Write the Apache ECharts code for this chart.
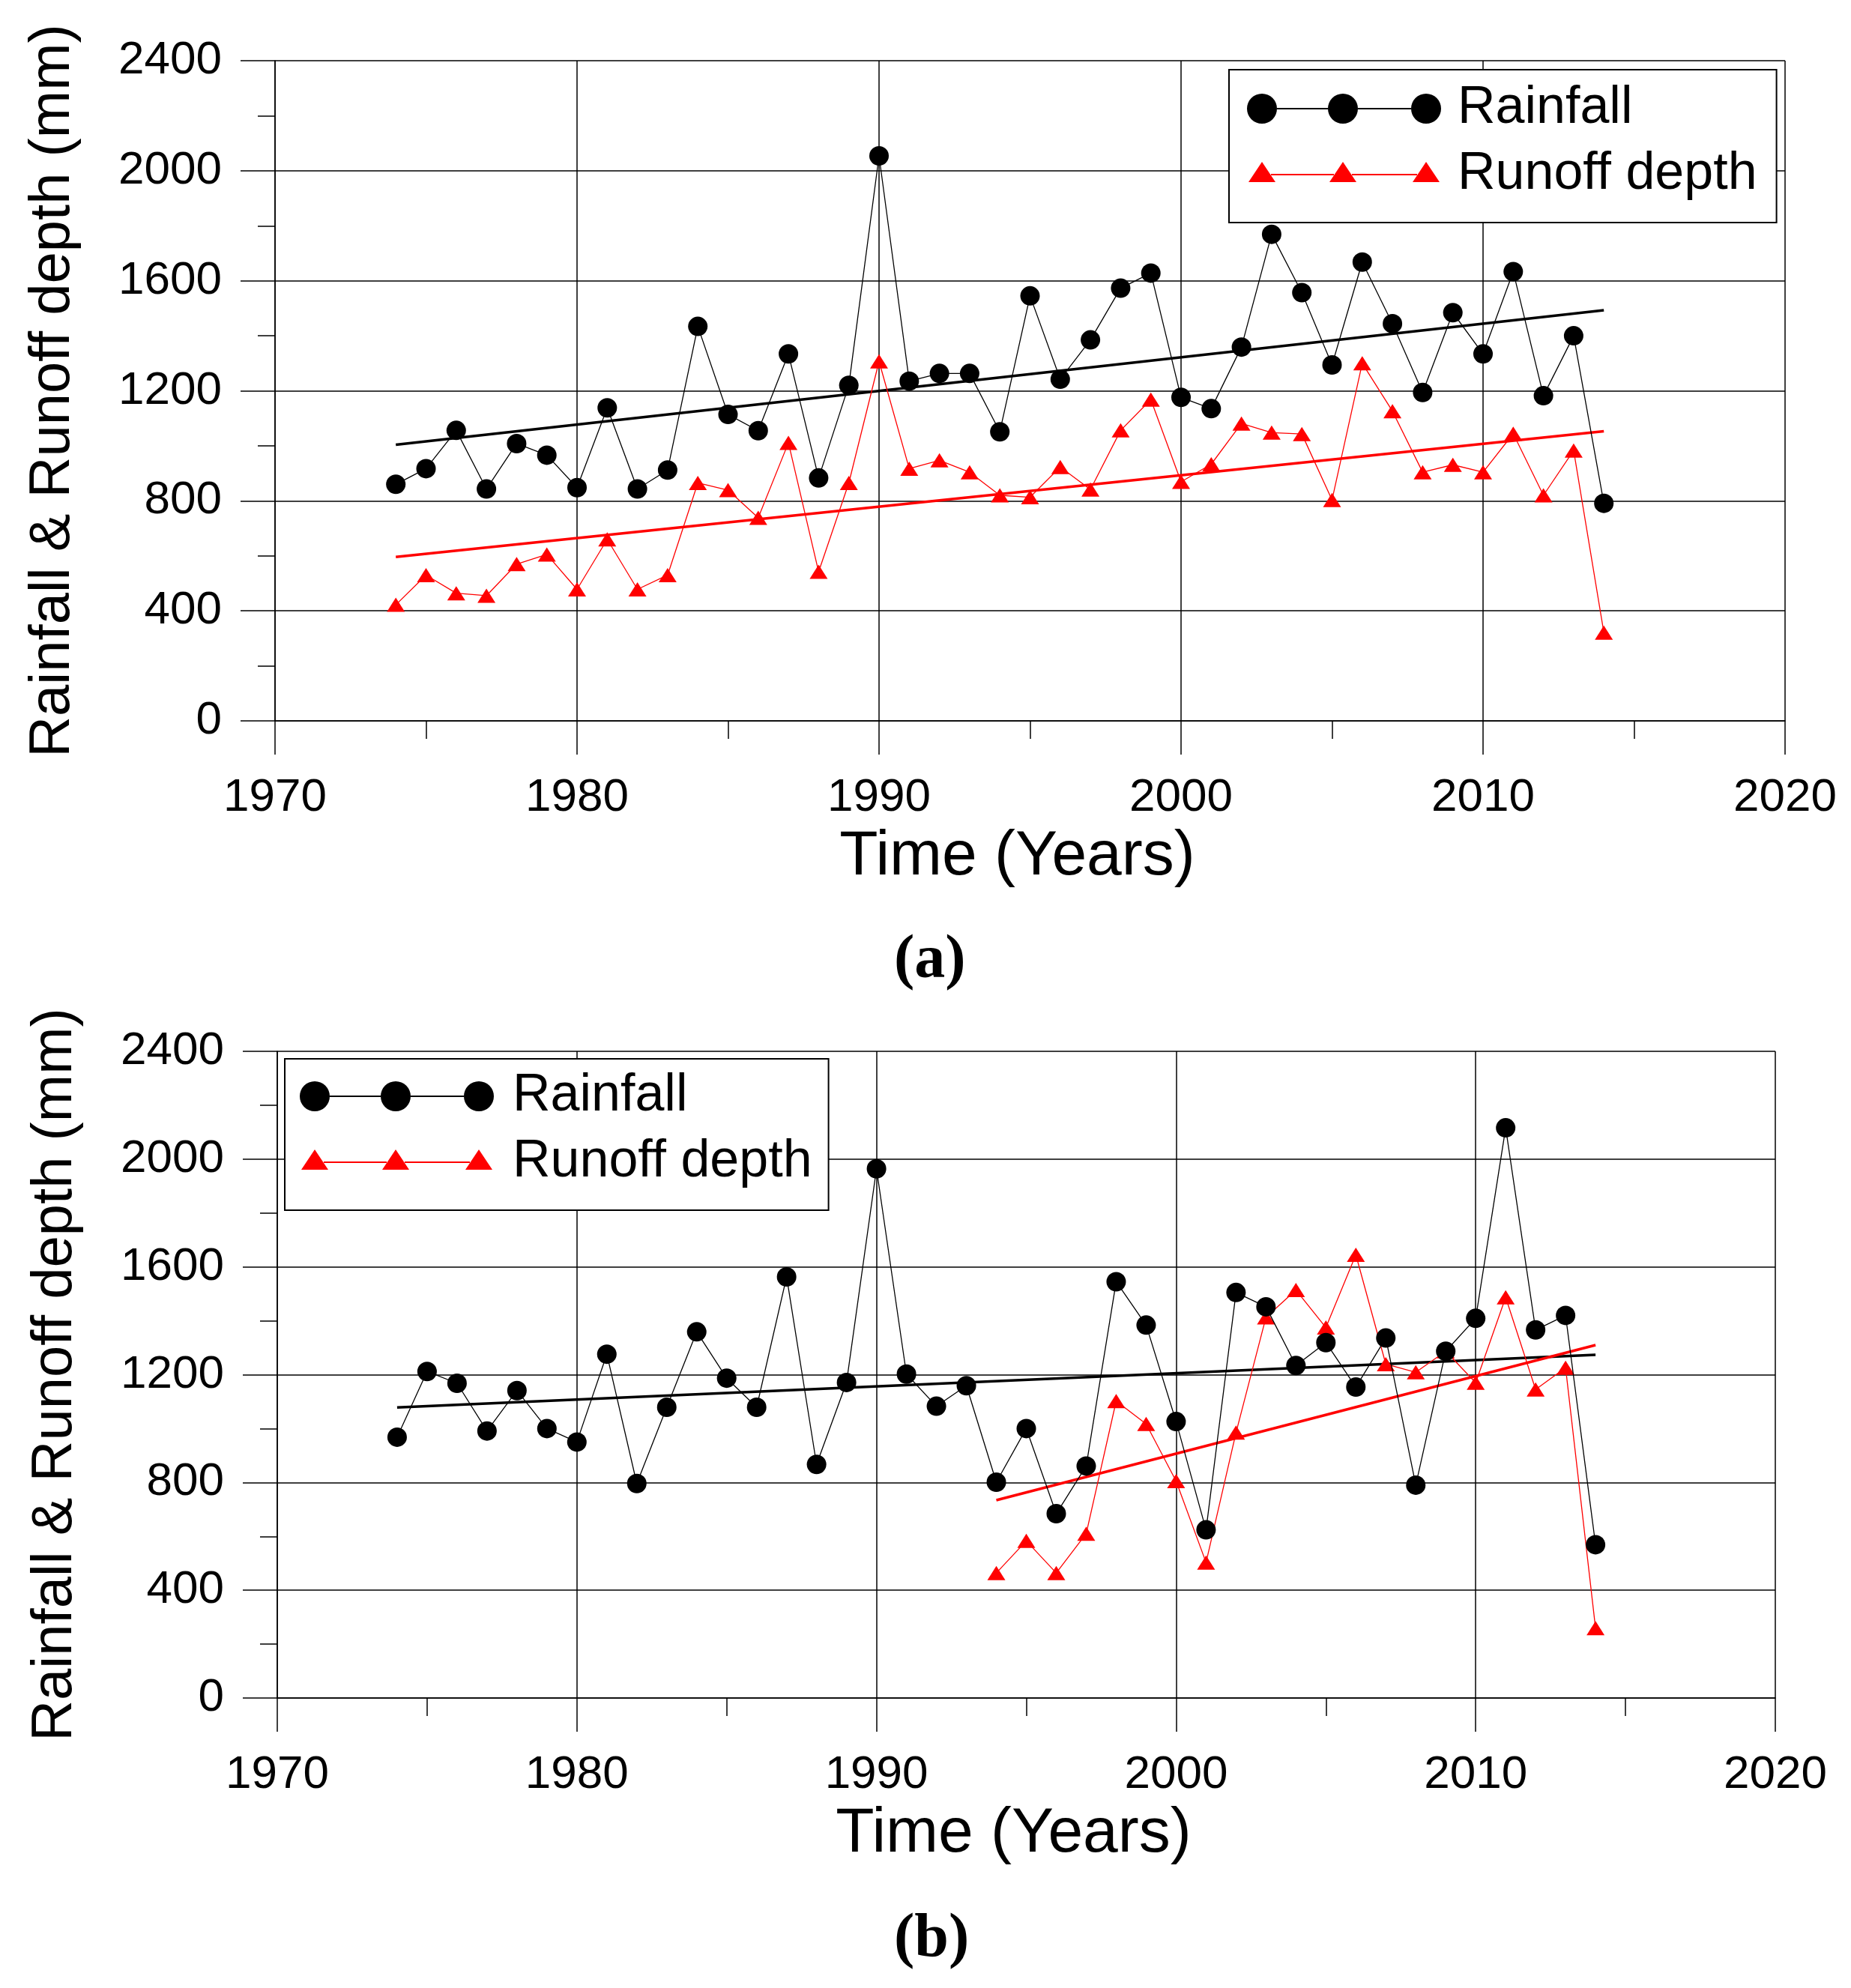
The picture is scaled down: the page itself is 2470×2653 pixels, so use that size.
<!DOCTYPE html>
<html>
<head>
<meta charset="utf-8">
<script src="https://cdn.jsdelivr.net/npm/echarts@6/dist/echarts.min.js"></script>
<style>
html,body{margin:0;padding:0;background:#fff;}
#c{width:2470px;height:2653px;}
</style>
</head>
<body>
<div id="c"></div>
<script>
// ---------- data ----------
const years = [1974,1975,1976,1977,1978,1979,1980,1981,1982,1983,1984,1985,1986,1987,1988,1989,1990,
  1991,1992,1993,1994,1995,1996,1997,1998,1999,2000,2001,2002,2003,2004,2005,2006,2007,2008,2009,2010,2011,2012,2013,2014];

// panel (a)
const rainfallA = [860,917,1056,843,1008,966,848,1138,843,912,1434,1114,1055,1334,883,1220,2054,
  1235,1263,1263,1051,1545,1242,1385,1573,1628,1176,1135,1359,1769,1557,1294,1668,1444,1194,1484,1334,1633,1182,1400,791];
const runoffA = [422,530,464,455,570,605,478,660,478,530,865,839,738,1011,542,865,1307,
  917,947,904,820,813,923,841,1056,1168,869,933,1081,1048,1043,803,1300,1126,904,931,904,1044,820,983,321];
const trendRainA = [[1974,1004],[2014,1493]];
const trendRunoffA = [[1974,596],[2014,1053]];

// panel (b)
const rainfallB = [968,1212,1168,991,1141,1000,950,1276,796,1079,1359,1187,1079,1563,867,1171,1964,
  1202,1083,1159,801,1000,684,861,1545,1384,1026,624,1505,1452,1234,1319,1154,1336,790,1287,1409,2116,1366,1420,569];
const runoffYearsB = [1994,1995,1996,1997,1998,1999,2000,2001,2002,2003,2004,2005,2006,2007,2008,2009,2010,2011,2012,2013,2014];
const runoffB = [464,583,464,610,1102,1017,805,503,985,1413,1514,1375,1645,1239,1209,1287,1170,1487,1145,1226,259];
const trendRainB = [[1974,1078],[2014,1274]];
const trendRunoffB = [[1994,734],[2014,1310]];

// axes
const xMin = 1970, xMax = 2020, xStep = 10;
const yMin = 0, yMax = 2400, yStep = 400;
const seriesNames = ['Rainfall', 'Runoff depth'];
const xTitle = 'Time (Years)';
const yTitle = 'Rainfall & Runoff depth (mm)';
const panelLabels = ['(a)', '(b)'];

// ---------- chart ----------
const FONT = '"Liberation Sans", Arial, sans-serif';
const chart = echarts.init(document.getElementById('c'), null, {renderer: 'canvas'});

const grids = [
  {left: 367, top: 81, width: 2015, height: 881},
  {left: 370, top: 1403, width: 1999, height: 863}
];
const plain = v => String(v);

function xAxis(gi) {
  return {
    type: 'value', gridIndex: gi, min: xMin, max: xMax, interval: xStep,
    axisLine: {show: true, onZero: false, lineStyle: {color: '#000', width: 1.5}},
    axisTick: {show: true, length: 45, lineStyle: {color: '#000', width: 1.5}},
    minorTick: {show: true, splitNumber: 2, length: 24, lineStyle: {color: '#000', width: 1.5}},
    splitLine: {show: true, lineStyle: {color: '#000', width: 1.5}},
    axisLabel: {fontSize: 62, color: '#000', margin: 72, fontFamily: FONT, formatter: plain},
    name: xTitle, nameLocation: 'middle', nameGap: 140, nameMoveOverlap: false,
    nameTextStyle: {fontSize: 84, color: '#000', fontFamily: FONT, padding: [0, 34, 0, 0]}
  };
}
function yAxis(gi) {
  return {
    type: 'value', gridIndex: gi, min: yMin, max: yMax, interval: yStep,
    axisLine: {show: true, onZero: false, lineStyle: {color: '#000', width: 1.5}},
    axisTick: {show: true, length: 46, lineStyle: {color: '#000', width: 1.5}},
    minorTick: {show: true, splitNumber: 2, length: 23, lineStyle: {color: '#000', width: 1.5}},
    splitLine: {show: true, lineStyle: {color: '#000', width: 1.5}},
    axisLabel: {fontSize: 62, color: '#000', margin: 71, fontFamily: FONT, formatter: plain},
    name: yTitle, nameLocation: 'middle', nameGap: 258, nameRotate: 90, nameMoveOverlap: false,
    nameTextStyle: {fontSize: 76, color: '#000', fontFamily: FONT}
  };
}

function panelSeries(gi, rain, runoff, runoffYears, tRain, tRun) {
  return [
    {type: 'line', name: 'Rainfall trend', xAxisIndex: gi, yAxisIndex: gi,
      data: tRain, symbol: 'none', lineStyle: {color: '#000', width: 3.5}, z: 2, silent: true},
    {type: 'line', name: 'Runoff trend', xAxisIndex: gi, yAxisIndex: gi,
      data: tRun, symbol: 'none', lineStyle: {color: '#ff0000', width: 3.5}, z: 2, silent: true},
    {type: 'line', name: seriesNames[1], xAxisIndex: gi, yAxisIndex: gi,
      data: runoffYears.map((y, i) => [y, runoff[i]]),
      symbol: 'triangle', symbolSize: [24, 19],
      itemStyle: {color: '#ff0000', borderWidth: 0}, lineStyle: {color: '#ff0000', width: 1.3}, z: 3},
    {type: 'line', name: seriesNames[0], xAxisIndex: gi, yAxisIndex: gi,
      data: years.map((y, i) => [y, rain[i]]),
      symbol: 'circle', symbolSize: 26,
      itemStyle: {color: '#000', borderWidth: 0}, lineStyle: {color: '#000', width: 1.3}, z: 4}
  ];
}

const circleIcon = 'path://M0,20a20,20 0 1,0 40,0a20,20 0 1,0 -40,0Z' +
  'M108,20a20,20 0 1,0 40,0a20,20 0 1,0 -40,0Z' +
  'M219,20a20,20 0 1,0 40,0a20,20 0 1,0 -40,0Z' +
  'M40,19L108,19L108,21L40,21Z M148,19L219,19L219,21L148,21Z';
const triIcon = 'path://M0,0L0.02,0L0,0.02Z M259,40L258.98,40L259,39.98Z' +
  'M2,30L20,3L38,30Z M110,30L128,3L146,30Z M221,30L239,3L257,30Z' +
  'M32,19L116,19L116,21L32,21Z M140,19L227,19L227,21L140,21Z';

function legend(left, top, padding, textPad) {
  return {
    left: left, top: top, orient: 'vertical',
    data: [{name: seriesNames[0], icon: circleIcon}, {name: seriesNames[1], icon: triIcon}],
    itemWidth: 259, itemHeight: 40, itemGap: 18,
    padding: padding, borderColor: '#000', borderWidth: 2, backgroundColor: '#fff',
    selectedMode: false,
    itemStyle: {borderWidth: 0},
    textStyle: {fontSize: 70, lineHeight: 68, color: '#000', fontFamily: FONT, padding: [0, 0, 0, textPad]}
  };
}

const option = {
  animation: false,
  backgroundColor: '#fff',
  grid: grids,
  xAxis: [xAxis(0), xAxis(1)],
  yAxis: [yAxis(0), yAxis(1)],
  legend: [
    legend(1640, 93, [17, 26, 29, 24], 17),
    legend(380, 1413, [15, 22, 29, 20], 20)
  ],
  series: [].concat(
    panelSeries(0, rainfallA, runoffA, years, trendRainA, trendRunoffA),
    panelSeries(1, rainfallB, runoffB, runoffYearsB, trendRainB, trendRunoffB)
  ),
  graphic: [
    {type: 'text', left: 1193, top: 1242, style: {text: panelLabels[0], font: 'bold 82px "Liberation Serif", "Times New Roman", serif', fill: '#000'}},
    {type: 'text', left: 1193, top: 2548, style: {text: panelLabels[1], font: 'bold 82px "Liberation Serif", "Times New Roman", serif', fill: '#000'}}
  ]
};
chart.setOption(option);
</script>
</body>
</html>
